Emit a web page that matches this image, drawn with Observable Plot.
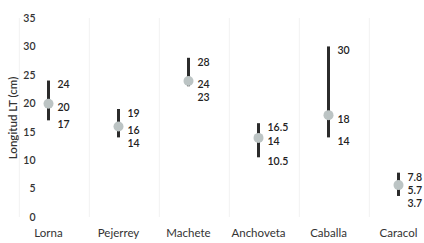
<!DOCTYPE html>
<html>
<head>
<meta charset="utf-8">
<script src="https://cdn.jsdelivr.net/npm/d3@7"></script>
<script src="https://cdn.jsdelivr.net/npm/@observablehq/plot@0.6"></script>
<style>
  html, body { margin: 0; padding: 0; background: #fff; }
  #chart { width: 424px; height: 243px; }
  #chart svg g[aria-label="y-axis label"] text { font-size: 11.5px; font-weight: 600; fill: #333; }
  #chart svg g[aria-label="y-axis tick label"] text { font-weight: 600; fill: #333; }
  #chart svg g[aria-label="x-axis tick label"] text { font-size: 11.5px; fill: #333; }
</style>
</head>
<body>
<div id="chart"></div>
<script>
const species = ["Lorna", "Pejerrey", "Machete", "Anchoveta", "Caballa", "Caracol"];
const minValues = [17, 14, 23, 10.5, 14, 3.7];
const meanValues = [20, 16, 24, 14, 18, 5.7];
const maxValues = [24, 19, 28, 16.5, 30, 7.8];
const yTicks = [0, 5, 10, 15, 20, 25, 30, 35];

const rows = species.map((s, i) => ({species: s, min: minValues[i], mean: meanValues[i], max: maxValues[i]}));

// value labels (max, mean, min), nudged apart in data units when they would collide
const minGap = 2.3;
const labels = [];
rows.forEach(r => {
  let prev = null;
  [r.max, r.mean, r.min].forEach(v => {
    let y = v;
    if (prev !== null && y > prev - minGap) y = prev - minGap;
    labels.push({species: r.species, value: v, y});
    prev = y;
  });
});

const font = "Lato, 'Open Sans', sans-serif";

const chart = Plot.plot({
  width: 424,
  height: 243,
  marginLeft: 48,
  marginRight: 26,
  marginTop: 18,
  marginBottom: 26,
  style: {fontFamily: font, fontSize: "10.5px", color: "#333", background: "#fff"},
  x: {domain: species, padding: 0, label: null, tickSize: 0, tickPadding: 11},
  y: {domain: [0, 35], ticks: yTicks, label: "Longitud LT (cm)", labelAnchor: "center", labelArrow: "none", labelOffset: 40, tickSize: 0, tickPadding: 13},
  marks: [
    Plot.gridY(yTicks, {stroke: "#e8e8e8", strokeOpacity: 1, strokeWidth: 1, x1: 43, x2: 400}),
    Plot.ruleX(rows, {x: "species", y1: 0, y2: 35, stroke: "#f2f2f2", strokeWidth: 1, dx: -29.2}),
    Plot.ruleX(rows, {x: "species", y1: "min", y2: "max", stroke: "#2b2b2b", strokeWidth: 3}),
    Plot.dot(rows, {x: "species", y: "mean", r: 5, fill: "#bcc4c4", stroke: "none"}),
    Plot.text(labels, {x: "species", y: "y", text: d => String(d.value), dx: 9, dy: 4, textAnchor: "start", fill: "#222", fontWeight: 600, fontSize: 10.5})
  ]
});
document.getElementById("chart").appendChild(chart);
</script>
</body>
</html>
